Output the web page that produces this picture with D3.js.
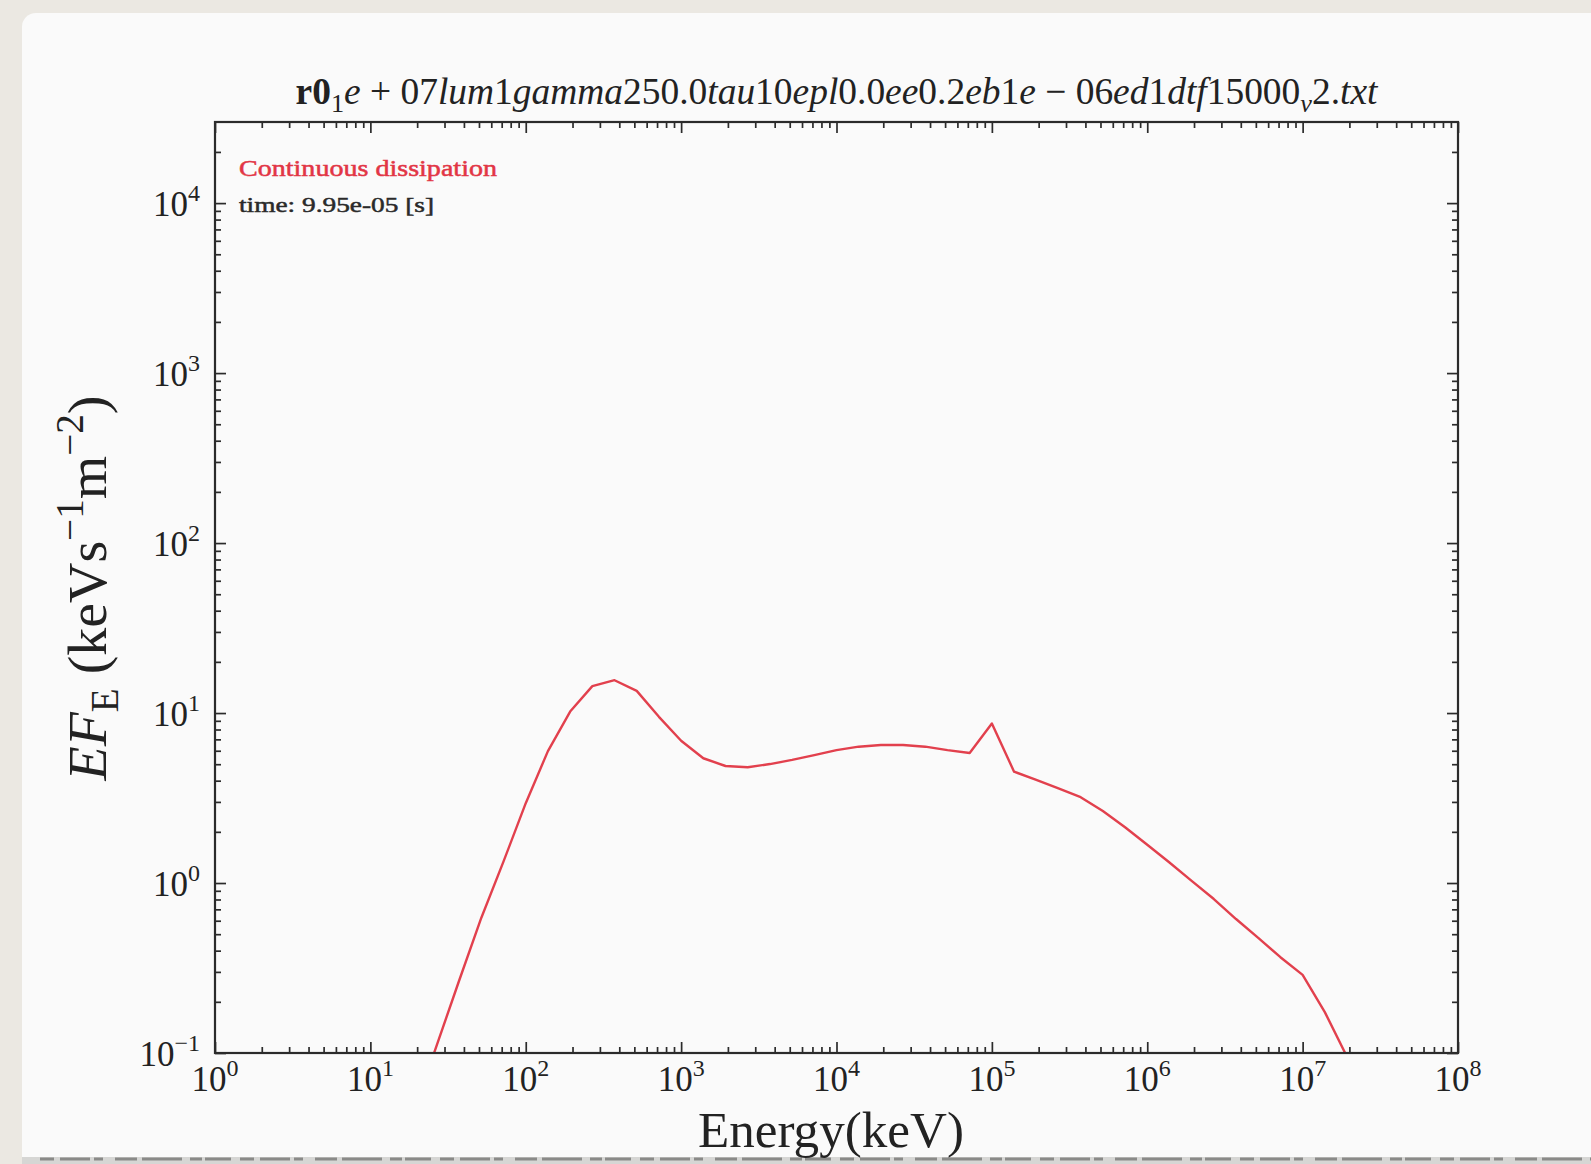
<!DOCTYPE html>
<html>
<head>
<meta charset="utf-8">
<script src="https://cdn.jsdelivr.net/npm/d3@7"></script>
<style>
  html, body { margin: 0; padding: 0; background: #ebe8e2; }
  svg { display: block; }
  text { font-family: "Liberation Serif", "DejaVu Serif", serif; white-space: pre; }
</style>
</head>
<body>
<svg id="chart" width="1591" height="1164"></svg>
<script>
// Spectrum: photon energy (keV) and E·F_E (keV s^-1 m^-2), 7 bins per decade
const energyKeV = [
  19.31, 26.83, 37.28, 51.79, 71.97, 100, 138.9, 193.1, 268.3, 372.8,
  517.9, 719.7, 1000, 1389, 1931, 2683, 3728, 5179, 7197, 10000,
  13895, 19307, 26827, 37276, 51795, 71969, 100000, 138950, 193070, 268270,
  372760, 517950, 719690, 1.0e6, 1.3895e6, 1.9307e6, 2.6827e6, 3.7276e6, 5.1795e6, 7.1969e6,
  1.0e7, 1.3895e7, 1.9307e7
];
const fluxEF = [
  0.047, 0.112, 0.267, 0.625, 1.34, 2.95, 5.97, 10.2, 14.4, 15.6,
  13.5, 9.5, 6.87, 5.42, 4.88, 4.80, 5.01, 5.30, 5.66, 6.05,
  6.34, 6.49, 6.49, 6.34, 6.05, 5.82, 8.69, 4.52, 4.04, 3.60,
  3.20, 2.65, 2.13, 1.68, 1.32, 1.03, 0.805, 0.614, 0.476, 0.366,
  0.288, 0.174, 0.095
];

const xDomain = [1, 1e8];
const yDomain = [0.1, 3e4];
const xTickExponents = [0, 1, 2, 3, 4, 5, 6, 7, 8];
const yTickExponents = [-1, 0, 1, 2, 3, 4];

const legendLabel = "Continuous dissipation";
const timeLabel = "time: 9.95e-05 [s]";
const xAxisLabel = "Energy(keV)";

// Title pieces: b = bold, i = italic, r = roman, sub / subi = subscript
const titleParts = [
  ["r0", "b"], ["1", "sub"], ["e", "i"], [" + ", "r"], ["07", "r"], ["lum", "i"], ["1", "r"],
  ["gamma", "i"], ["250.0", "r"], ["tau", "i"], ["10", "r"], ["epl", "i"], ["0.0", "r"],
  ["ee", "i"], ["0.2", "r"], ["eb", "i"], ["1", "r"], ["e", "i"], [" \u2212 ", "r"], ["06", "r"],
  ["ed", "i"], ["1", "r"], ["dtf", "i"], ["15000", "r"], ["v", "subi"], ["2", "r"], [".", "r"], ["txt", "i"]
];
// Y label pieces: sup = superscript
const yLabelParts = [
  ["E", "i"], ["F", "i"], ["E", "sub"], [" (keVs", "r"], ["\u22121", "sup"], ["m", "r"], ["\u22122", "sup"], [")", "r"]
];

const lineColor = "#e2404d";
const inkColor = "#2b2b2b";

const svg = d3.select("#chart");
const W = 1591, H = 1164;
const plot = { left: 215, right: 1458, top: 122, bottom: 1053 };

// page frame
svg.append("rect").attr("x", 0).attr("y", 0).attr("width", W).attr("height", H).attr("fill", "#ebe8e2");
svg.append("rect").attr("x", 22).attr("y", 13).attr("width", W).attr("height", H).attr("rx", 14).attr("fill", "#fafafa");
svg.append("rect").attr("x", 22).attr("y", 1157).attr("width", W).attr("height", 7).attr("fill", "#d6d6d4");
svg.append("line").attr("x1", 40).attr("x2", W).attr("y1", 1159).attr("y2", 1159)
  .attr("stroke", "#8a8a88").attr("stroke-width", 3)
  .attr("stroke-dasharray", "14 6 30 4 9 12 22 5 40 8 12 3 26 9");

const x = d3.scaleLog().domain(xDomain).range([plot.left, plot.right]);
const y = d3.scaleLog().domain(yDomain).range([plot.bottom, plot.top]);

function minorValues(loExp, hiExp, max) {
  const out = [];
  for (let e = loExp; e < hiExp; e++) for (let m = 2; m <= 9; m++) {
    const v = m * Math.pow(10, e);
    if (v < max) out.push(v);
  }
  return out;
}
const xMajor = xTickExponents.map(e => Math.pow(10, e));
const yMajor = yTickExponents.map(e => Math.pow(10, e));
const xMinor = minorValues(0, 8, xDomain[1]);
const yMinor = minorValues(-1, 5, yDomain[1]);

function tickAxis(axisFn, scale, values, size, transform) {
  const g = svg.append("g").attr("transform", transform)
    .call(axisFn(scale).tickValues(values).tickSize(-size).tickFormat(""));
  g.select(".domain").remove();
  g.selectAll(".tick line").attr("stroke", inkColor).attr("stroke-width", 1.7);
  return g;
}
// ticks point inward on all four sides
tickAxis(d3.axisBottom, x, xMajor, 11, `translate(0,${plot.bottom})`);
tickAxis(d3.axisBottom, x, xMinor, 6, `translate(0,${plot.bottom})`);
tickAxis(d3.axisTop, x, xMajor, 11, `translate(0,${plot.top})`);
tickAxis(d3.axisTop, x, xMinor, 6, `translate(0,${plot.top})`);
tickAxis(d3.axisLeft, y, yMajor, 11, `translate(${plot.left},0)`);
tickAxis(d3.axisLeft, y, yMinor, 6, `translate(${plot.left},0)`);
tickAxis(d3.axisRight, y, yMajor, 11, `translate(${plot.right},0)`);
tickAxis(d3.axisRight, y, yMinor, 6, `translate(${plot.right},0)`);

// spectrum curve, clipped to the axes box
svg.append("clipPath").attr("id", "plotClip").append("rect")
  .attr("x", plot.left).attr("y", plot.top)
  .attr("width", plot.right - plot.left).attr("height", plot.bottom - plot.top);
const series = energyKeV.map((e, i) => [e, fluxEF[i]]);
svg.append("path").datum(series)
  .attr("clip-path", "url(#plotClip)")
  .attr("fill", "none").attr("stroke", lineColor).attr("stroke-width", 2.4)
  .attr("stroke-linejoin", "round")
  .attr("d", d3.line().x(d => x(d[0])).y(d => y(d[1])));

// axes box
svg.append("rect").attr("x", plot.left).attr("y", plot.top)
  .attr("width", plot.right - plot.left).attr("height", plot.bottom - plot.top)
  .attr("fill", "none").attr("stroke", inkColor).attr("stroke-width", 2.2);

// power-of-ten tick labels
const tickFont = 35, supFont = 24;
function powerLabel(sel, exp) {
  sel.append("tspan").text("10");
  sel.append("tspan").attr("font-size", supFont).attr("dy", -15)
    .text(exp < 0 ? "\u2212" + (-exp) : String(exp));
}
xTickExponents.forEach(e => {
  const t = svg.append("text").attr("x", x(Math.pow(10, e))).attr("y", 1091)
    .attr("text-anchor", "middle").attr("font-size", tickFont).attr("fill", "#222");
  powerLabel(t, e);
});
yTickExponents.forEach(e => {
  const t = svg.append("text").attr("x", 200).attr("y", y(Math.pow(10, e)) + 13)
    .attr("text-anchor", "end").attr("font-size", tickFont).attr("fill", "#222");
  powerLabel(t, e);
});

// mixed-style text builder
function styledText(parent, parts, size) {
  const t = parent.append("text").attr("font-size", size).attr("fill", "#222");
  let shift = 0;
  parts.forEach(([s, k]) => {
    const sp = t.append("tspan").text(s);
    let target = 0;
    if (k === "b") sp.attr("font-weight", "bold");
    if (k === "i" || k === "subi") sp.attr("font-style", "italic");
    if (k === "sub" || k === "subi") { sp.attr("font-size", size * 0.7); target = size * 0.22; }
    if (k === "sup") { sp.attr("font-size", size * 0.7); target = -size * 0.42; }
    sp.attr("dy", target - shift);
    shift = target;
  });
  return t;
}
function fitWidth(t, size, width) {
  const w = t.node().getComputedTextLength();
  const s = size * width / w;
  t.attr("font-size", s);
  t.selectAll("tspan").each(function () {
    const fs = d3.select(this).attr("font-size");
    if (fs) d3.select(this).attr("font-size", +fs * s / size);
    const dy = d3.select(this).attr("dy");
    if (dy) d3.select(this).attr("dy", +dy * s / size);
  });
}

// title
const title = styledText(svg, titleParts, 32)
  .attr("x", (plot.left + plot.right) / 2).attr("y", 104).attr("text-anchor", "middle");
fitWidth(title, 32, 1082);

// legend-style annotations (regular weight, lightly stroked)
const leg1 = svg.append("text").attr("x", 239).attr("y", 176).attr("font-size", 23)
  .attr("fill", "#e23545").attr("stroke", "#e23545").attr("stroke-width", 0.5).text(legendLabel);
leg1.attr("textLength", 258).attr("lengthAdjust", "spacingAndGlyphs");
const leg2 = svg.append("text").attr("x", 239).attr("y", 212).attr("font-size", 22)
  .attr("fill", "#2a2a2a").attr("stroke", "#2a2a2a").attr("stroke-width", 0.5).text(timeLabel);
leg2.attr("textLength", 195).attr("lengthAdjust", "spacingAndGlyphs");

// axis titles
const xl = svg.append("text").attr("x", 831).attr("y", 1147).attr("text-anchor", "middle")
  .attr("font-size", 50).attr("fill", "#222").text(xAxisLabel);
fitWidth(xl, 50, 266);

const yG = svg.append("g").attr("transform", "translate(106,588) rotate(-90)");
const yl = styledText(yG, yLabelParts, 50).attr("x", 0).attr("y", 0).attr("text-anchor", "middle");
fitWidth(yl, 50, 385);
</script>
</body>
</html>
